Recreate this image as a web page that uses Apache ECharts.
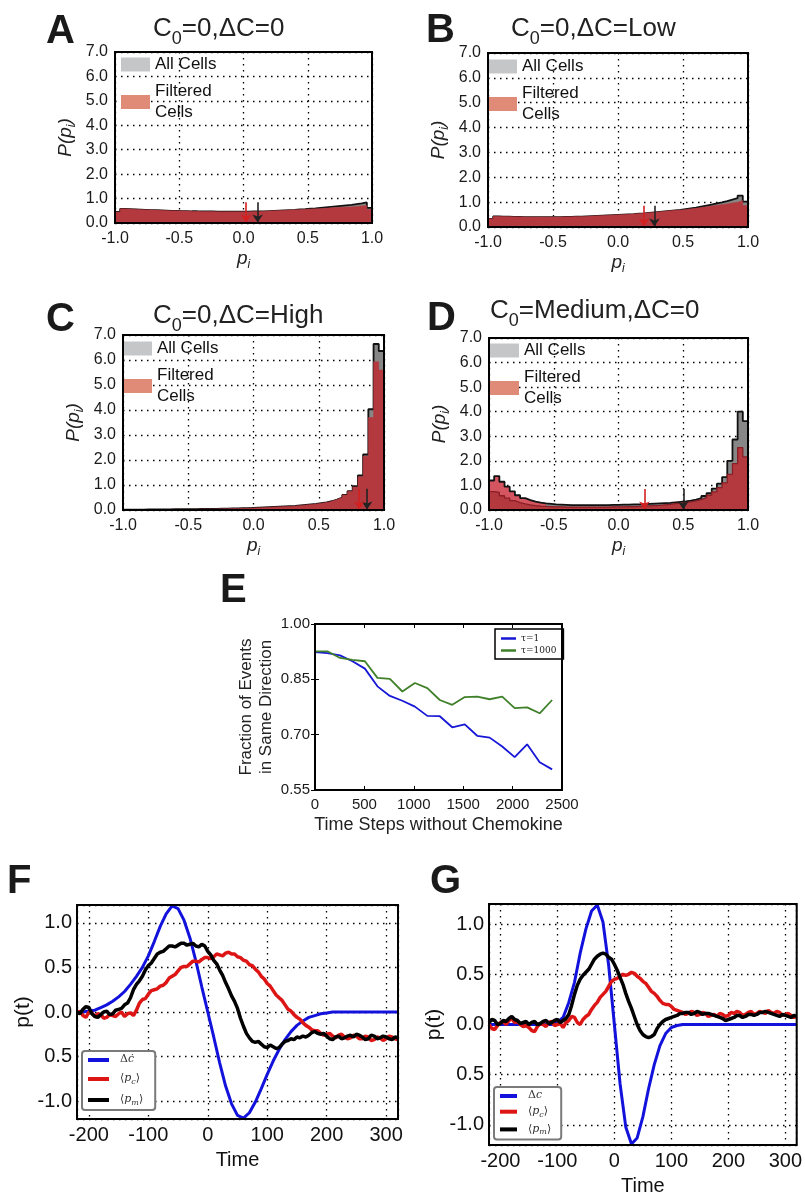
<!DOCTYPE html>
<html><head><meta charset="utf-8">
<script src="https://cdn.jsdelivr.net/npm/echarts@6/dist/echarts.min.js"></script>
<style>html,body{margin:0;padding:0;background:#fff}#c{width:805px;height:1203px}</style>
</head><body><div id="c"></div><script>
// ---------- DATA ----------
const histEdges = [-1.00,-0.96,-0.92,-0.88,-0.84,-0.80,-0.76,-0.72,-0.68,-0.64,-0.60,-0.56,-0.52,-0.48,-0.44,-0.40,-0.36,-0.32,-0.28,-0.24,-0.20,-0.16,-0.12,-0.08,-0.04,0.00,0.04,0.08,0.12,0.16,0.20,0.24,0.28,0.32,0.36,0.40,0.44,0.48,0.52,0.56,0.60,0.64,0.68,0.72,0.76,0.80,0.84,0.88,0.92,0.96,1.00];
const allA  = [0.45,0.58,0.57,0.56,0.55,0.54,0.53,0.53,0.52,0.51,0.50,0.50,0.49,0.49,0.48,0.48,0.47,0.47,0.47,0.46,0.46,0.46,0.46,0.46,0.46,0.46,0.47,0.47,0.48,0.49,0.50,0.51,0.52,0.53,0.54,0.56,0.57,0.59,0.60,0.62,0.64,0.66,0.68,0.70,0.72,0.74,0.77,0.80,0.84,0.62];
const filtA = [0.45,0.58,0.57,0.56,0.55,0.54,0.53,0.53,0.52,0.51,0.50,0.50,0.49,0.49,0.48,0.48,0.47,0.47,0.47,0.46,0.46,0.46,0.46,0.46,0.46,0.46,0.47,0.47,0.48,0.49,0.50,0.51,0.52,0.53,0.54,0.55,0.56,0.57,0.58,0.59,0.60,0.62,0.63,0.64,0.65,0.66,0.68,0.70,0.72,0.55];
const allB  = [0.33,0.43,0.42,0.42,0.41,0.41,0.40,0.40,0.40,0.40,0.40,0.40,0.40,0.40,0.41,0.41,0.42,0.42,0.43,0.44,0.45,0.46,0.47,0.48,0.49,0.50,0.51,0.52,0.54,0.55,0.57,0.59,0.61,0.63,0.65,0.67,0.69,0.72,0.75,0.78,0.82,0.86,0.90,0.95,0.99,1.04,1.10,1.16,1.26,1.02];
const filtB = [0.33,0.43,0.42,0.42,0.41,0.41,0.40,0.40,0.40,0.40,0.40,0.40,0.40,0.40,0.41,0.41,0.42,0.42,0.43,0.44,0.45,0.46,0.47,0.48,0.49,0.50,0.51,0.52,0.54,0.55,0.57,0.59,0.61,0.63,0.65,0.67,0.68,0.70,0.73,0.75,0.78,0.81,0.84,0.87,0.90,0.93,0.97,1.00,1.06,0.86];
const allC  = [0.01,0.01,0.01,0.01,0.02,0.02,0.02,0.02,0.02,0.03,0.03,0.03,0.03,0.03,0.04,0.04,0.04,0.04,0.05,0.05,0.06,0.06,0.07,0.07,0.08,0.09,0.10,0.11,0.12,0.13,0.14,0.15,0.16,0.18,0.20,0.22,0.24,0.27,0.30,0.35,0.42,0.50,0.60,0.75,0.95,1.38,2.22,4.03,6.64,6.36];
const filtC = [0.01,0.01,0.01,0.01,0.02,0.02,0.02,0.02,0.02,0.03,0.03,0.03,0.03,0.03,0.04,0.04,0.04,0.04,0.05,0.05,0.06,0.06,0.07,0.07,0.08,0.09,0.10,0.11,0.12,0.13,0.14,0.15,0.16,0.18,0.20,0.22,0.24,0.27,0.30,0.35,0.42,0.50,0.60,0.75,0.92,1.33,2.15,3.70,5.93,5.60];
const allD  = [1.20,1.38,1.15,0.95,0.76,0.60,0.48,0.40,0.34,0.30,0.27,0.25,0.23,0.22,0.21,0.20,0.20,0.20,0.20,0.20,0.20,0.20,0.20,0.21,0.21,0.22,0.22,0.23,0.23,0.24,0.25,0.26,0.27,0.28,0.29,0.31,0.33,0.35,0.38,0.42,0.48,0.57,0.69,0.87,1.07,1.34,2.00,2.87,4.00,3.62];
const filtD = [0.75,0.72,0.58,0.48,0.38,0.30,0.25,0.21,0.18,0.16,0.15,0.14,0.13,0.13,0.12,0.12,0.12,0.12,0.12,0.12,0.12,0.12,0.12,0.13,0.13,0.13,0.14,0.14,0.15,0.16,0.17,0.18,0.19,0.21,0.23,0.26,0.28,0.30,0.33,0.37,0.42,0.50,0.60,0.74,0.91,1.10,1.45,1.89,2.54,2.16];
const meanAll  = [0.11, 0.28, 0.87, 0.50];
const meanFilt = [0.02, 0.20, 0.81, 0.20];
const histTitles = [['0','=0,ΔC=0'],['0','=0,ΔC=Low'],['0','=0,ΔC=High'],['0','=Medium,ΔC=0']];
const panelLetters = ['A','B','C','D','E','F','G'];

const eSteps    = [0,126,253,379,505,632,758,884,1011,1137,1263,1389,1516,1642,1768,1895,2021,2147,2274,2400];
const eTau1     = [0.924,0.921,0.915,0.899,0.879,0.831,0.805,0.792,0.776,0.751,0.750,0.720,0.728,0.697,0.692,0.668,0.639,0.674,0.625,0.606];
const eTau1000  = [0.926,0.926,0.908,0.903,0.899,0.854,0.851,0.817,0.840,0.826,0.794,0.781,0.802,0.803,0.796,0.803,0.772,0.774,0.758,0.794];

// smooth stimulus curves (every 10 time units)
const tTime = [-220,-210,-200,-190,-180,-170,-160,-150,-140,-130,-120,-110,-100,-90,-80,-70,-60,-50,-40,-30,-20,-10,0,10,20,30,40,50,60,70,80,90,100,110,120,130,140,150,160,170,180,190,200,210,220,230,240,250,260,270,280,290,300,310,320];
const fBlue  = [0.00,0.00,0.01,0.02,0.05,0.08,0.12,0.17,0.23,0.31,0.40,0.50,0.63,0.79,0.96,1.10,1.19,1.16,1.03,0.83,0.57,0.28,0.00,-0.28,-0.57,-0.83,-1.03,-1.16,-1.19,-1.13,-1.01,-0.86,-0.70,-0.55,-0.42,-0.31,-0.22,-0.15,-0.10,-0.06,-0.04,-0.02,-0.01,0.00,0.00,0.00,0.00,0.00,0.00,0.00,0.00,0.00,0.00,0.00,0.00];
const gBlue  = [0.00,0.00,0.00,0.00,0.00,0.00,0.00,0.00,0.00,0.00,0.00,0.00,0.02,0.07,0.22,0.42,0.71,0.95,1.13,1.19,1.02,0.59,0.00,-0.59,-1.02,-1.19,-1.13,-0.92,-0.64,-0.40,-0.21,-0.09,-0.03,-0.01,0.00,0.00,0.00,0.00,0.00,0.00,0.00,0.00,0.00,0.00,0.00,0.00,0.00,0.00,0.00,0.00,0.00,0.00,0.00,0.00,0.00];
// noisy averages (every 5 time units)
const tFine = [-220,-215,-210,-205,-200,-195,-190,-185,-180,-175,-170,-165,-160,-155,-150,-145,-140,-135,-130,-125,-120,-115,-110,-105,-100,-95,-90,-85,-80,-75,-70,-65,-60,-55,-50,-45,-40,-35,-30,-25,-20,-15,-10,-5,0,5,10,15,20,25,30,35,40,45,50,55,60,65,70,75,80,85,90,95,100,105,110,115,120,125,130,135,140,145,150,155,160,165,170,175,180,185,190,195,200,205,210,215,220,225,230,235,240,245,250,255,260,265,270,275,280,285,290,295,300,305,310,315,320];
const fRed = [-0.02,0.01,-0.04,-0.06,0.00,-0.01,-0.05,-0.02,-0.03,-0.07,-0.06,-0.03,-0.04,-0.05,-0.02,0.00,-0.05,-0.02,-0.01,-0.04,0.02,0.10,0.14,0.15,0.20,0.24,0.25,0.26,0.29,0.30,0.33,0.38,0.40,0.42,0.46,0.50,0.51,0.51,0.54,0.57,0.57,0.56,0.59,0.61,0.61,0.60,0.62,0.65,0.64,0.63,0.66,0.67,0.65,0.65,0.62,0.61,0.58,0.57,0.53,0.52,0.48,0.45,0.40,0.37,0.32,0.29,0.24,0.19,0.16,0.13,0.08,0.03,0.01,-0.03,-0.06,-0.08,-0.12,-0.15,-0.17,-0.20,-0.21,-0.21,-0.24,-0.26,-0.25,-0.24,-0.27,-0.29,-0.26,-0.25,-0.28,-0.30,-0.29,-0.26,-0.27,-0.30,-0.30,-0.27,-0.28,-0.32,-0.31,-0.28,-0.29,-0.32,-0.30,-0.27,-0.28,-0.30,-0.31];
const fBlack = [0.00,-0.02,0.03,0.06,0.05,-0.02,-0.05,-0.06,-0.03,0.00,0.01,-0.03,-0.02,0.02,0.03,0.04,0.08,0.10,0.16,0.25,0.31,0.35,0.40,0.47,0.52,0.55,0.60,0.65,0.67,0.68,0.71,0.74,0.74,0.73,0.75,0.77,0.77,0.75,0.76,0.77,0.74,0.73,0.76,0.74,0.68,0.64,0.58,0.54,0.47,0.41,0.33,0.26,0.18,0.12,0.04,-0.07,-0.16,-0.24,-0.29,-0.33,-0.34,-0.33,-0.36,-0.39,-0.40,-0.37,-0.39,-0.41,-0.40,-0.36,-0.33,-0.32,-0.30,-0.31,-0.28,-0.29,-0.27,-0.28,-0.26,-0.23,-0.22,-0.24,-0.25,-0.24,-0.27,-0.30,-0.31,-0.28,-0.27,-0.30,-0.29,-0.27,-0.26,-0.28,-0.25,-0.26,-0.28,-0.31,-0.30,-0.26,-0.27,-0.30,-0.29,-0.27,-0.28,-0.30,-0.31,-0.28,-0.29];
const gRed = [0.00,-0.04,-0.05,-0.01,0.02,0.03,0.00,0.04,0.06,0.02,0.03,0.00,-0.02,-0.01,-0.03,-0.06,-0.07,-0.02,0.01,0.00,-0.02,0.02,0.03,-0.01,0.00,0.01,-0.03,0.02,0.04,0.08,0.07,0.02,0.00,0.05,0.08,0.10,0.15,0.19,0.22,0.27,0.30,0.33,0.38,0.43,0.45,0.46,0.48,0.50,0.49,0.50,0.52,0.51,0.48,0.46,0.43,0.41,0.37,0.33,0.31,0.28,0.24,0.21,0.20,0.20,0.18,0.15,0.14,0.13,0.12,0.10,0.11,0.13,0.12,0.09,0.10,0.12,0.11,0.08,0.09,0.10,0.08,0.11,0.10,0.08,0.09,0.12,0.11,0.13,0.12,0.09,0.10,0.12,0.13,0.10,0.11,0.13,0.12,0.11,0.14,0.12,0.11,0.13,0.12,0.09,0.10,0.11,0.09,0.07,0.08];
const gBlack = [0.02,0.05,0.04,0.00,0.01,0.04,0.03,0.06,0.08,0.05,0.04,0.01,0.02,0.03,0.00,0.02,0.03,0.00,0.01,0.03,0.04,0.01,0.02,0.04,0.05,0.02,0.04,0.06,0.10,0.19,0.30,0.39,0.45,0.49,0.52,0.55,0.60,0.65,0.68,0.70,0.71,0.70,0.67,0.65,0.60,0.54,0.47,0.40,0.31,0.23,0.16,0.08,0.00,-0.06,-0.10,-0.12,-0.13,-0.12,-0.10,-0.04,0.00,0.03,0.05,0.06,0.07,0.08,0.09,0.11,0.11,0.12,0.12,0.10,0.11,0.13,0.12,0.10,0.11,0.11,0.10,0.09,0.08,0.07,0.06,0.04,0.05,0.06,0.07,0.09,0.09,0.07,0.08,0.10,0.10,0.09,0.10,0.12,0.12,0.13,0.12,0.11,0.10,0.09,0.08,0.10,0.09,0.08,0.07,0.09,0.08];

// ---------- STYLE / LAYOUT ----------
const FONT = "'Liberation Sans', Arial, Helvetica, sans-serif";
const SERIF = "'DejaVu Serif', 'Liberation Serif', serif";
const GREY_FILL = '#878787', RED_FILL = '#b3393f', PINK_FILL = '#d45560';
const dotted = {color:'#000', width:1.3, type:[1.5,4.5]};
const grids = [
  {left:115, top:52, width:257, height:171},
  {left:488, top:53, width:260, height:174},
  {left:123, top:335, width:261, height:175},
  {left:489, top:338, width:259, height:172},
  {left:315, top:624, width:247, height:166},
  {left:77,  top:905, width:321, height:214},
  {left:489, top:904, width:309, height:241}
].map(g=>Object.assign(g,{show:true, z:10, backgroundColor:'transparent', borderColor:'#000', borderWidth:2}));

const histLegendPos = [[121,54],[488,56],[123,338],[490,340]];
const histTitlePos  = [[153,16],[511,16],[153,303],[490,298]];
const letterPos = [[46,12],[426,11],[46,300],[427,299],[220,571],[7,862],[430,862]];

const xAxes = [], yAxes = [], series = [], legends = [], titles = [];

const rSub = {
  i:{fontStyle:'italic', fontSize:19, lineHeight:19, verticalAlign:'top', fontFamily:FONT, color:'#222'},
  s:{fontStyle:'italic', fontSize:12, lineHeight:12, padding:[10,0,0,0], verticalAlign:'top', fontFamily:FONT, color:'#222'}
};

const histAll = [allA, allB, allC, allD], histFilt = [filtA, filtB, filtC, filtD];
for (let p = 0; p < 4; p++) {
  xAxes.push({gridIndex:p, type:'value', min:-1, max:1, interval:0.5,
    axisLine:{show:false}, axisTick:{show:false},
    axisLabel:{fontSize:16, color:'#1a1a1a', margin:8, fontFamily:FONT, formatter:v=>v.toFixed(1)},
    splitLine:{show:true, lineStyle:dotted},
    name:'{i|p}{s|i}', nameLocation:'middle', nameGap:26, nameTextStyle:{rich:rSub}});
  yAxes.push({gridIndex:p, type:'value', min:0, max:7, interval:1,
    axisLine:{show:false}, axisTick:{show:false},
    axisLabel:{fontSize:16, color:'#1a1a1a', margin:7, fontFamily:FONT, formatter:v=>v.toFixed(1)},
    splitLine:{show:true, lineStyle:dotted},
    name:'{i|P(p}{s|i}{i|)}', nameLocation:'middle', nameGap:40, nameRotate:90, nameTextStyle:{rich:rSub}});
  const allFill = p === 3 ? new echarts.graphic.LinearGradient(0,0,1,0,[
      {offset:0,color:PINK_FILL},{offset:0.22,color:PINK_FILL},{offset:0.22,color:GREY_FILL},{offset:1,color:GREY_FILL}]) : GREY_FILL;
  const allData = histEdges.map((x,i)=>[x, histAll[p][Math.min(i, histAll[p].length-1)]]);
  const filtData = histEdges.map((x,i)=>[x, histFilt[p][Math.min(i, histFilt[p].length-1)]]);
  series.push({name:'All Cells', type:'line', xAxisIndex:p, yAxisIndex:p, step:'end', data:allData,
    symbol:'none', z:2, itemStyle:{color:'#c5c6c8'},
    lineStyle:{color:'#111', width:1.8}, areaStyle:{color:allFill, opacity:1},
    markLine:{silent:true, symbol:['none','arrow'], symbolSize:8, label:{show:false},
      lineStyle:{color:'#222', width:1.6, type:'solid'},
      data:[[{coord:[meanAll[p],0.85]},{coord:[meanAll[p],0.02]}]]}});
  series.push({name:'Filtered Cells', type:'line', xAxisIndex:p, yAxisIndex:p, step:'end', data:filtData,
    symbol:'none', z:3, itemStyle:{color:'#e08a78'},
    lineStyle:{color: p===3 ? '#8a1e24' : RED_FILL, width: p===3 ? 1.3 : 0.5}, areaStyle:{color:RED_FILL, opacity:1},
    markLine:{silent:true, symbol:['none','arrow'], symbolSize:8, label:{show:false},
      lineStyle:{color:'#d42020', width:1.6, type:'solid'},
      data:[[{coord:[meanFilt[p],0.85]},{coord:[meanFilt[p],0.02]}]]}});
  legends.push({left:histLegendPos[p][0], top:histLegendPos[p][1], orient:'vertical', padding:0, itemGap:6,
    itemWidth:29, itemHeight:14, icon:'rect', selectedMode:false,
    data:[{name:'All Cells', itemStyle:{color:'#c5c6c8'}},{name:'Filtered Cells', itemStyle:{color:'#e08a78'}}],
    formatter:n=>n==='Filtered Cells' ? 'Filtered\nCells' : n,
    textStyle:{fontSize:17, lineHeight:21, color:'#111', fontFamily:FONT}});
  titles.push({left:histTitlePos[p][0], top:histTitlePos[p][1], padding:0,
    text:'{m|C}{s|' + histTitles[p][0] + '}{m|' + histTitles[p][1] + '}',
    textStyle:{fontWeight:'normal', rich:{
      m:{fontSize:26, lineHeight:26, fontWeight:'normal', verticalAlign:'top', fontFamily:FONT, color:'#222'},
      s:{fontSize:18, lineHeight:18, fontWeight:'normal', padding:[14,0,0,0], verticalAlign:'top', fontFamily:FONT, color:'#222'}}}});
}

// Panel E
xAxes.push({gridIndex:4, type:'value', min:0, max:2500, interval:500,
  axisLine:{show:false}, axisTick:{show:true, inside:true, length:4, lineStyle:{color:'#000'}},
  axisLabel:{fontSize:15, color:'#1a1a1a', margin:7, fontFamily:FONT, formatter:v=>String(v)}, splitLine:{show:false},
  name:'Time Steps without Chemokine', nameLocation:'middle', nameGap:26,
  nameTextStyle:{fontSize:18, color:'#222', fontFamily:FONT}});
yAxes.push({gridIndex:4, type:'value', min:0.55, max:1.0, interval:0.15,
  axisLine:{show:false}, axisTick:{show:true, inside:true, length:4, lineStyle:{color:'#000'}},
  axisLabel:{fontSize:15, color:'#1a1a1a', margin:5, fontFamily:FONT, formatter:v=>v.toFixed(2)}, splitLine:{show:false},
  name:'Fraction of Events\nin Same Direction', nameLocation:'middle', nameGap:39, nameRotate:90,
  nameTextStyle:{fontSize:17, lineHeight:20, color:'#222', fontFamily:FONT}});

// Panels F, G
const fgAxisX = gi => ({gridIndex:gi, type:'value', min:-220, max:320, minInterval:100, maxInterval:100,
  axisLine:{show:false}, axisTick:{show:false},
  axisLabel:{fontSize:20, color:'#111', margin:6, fontFamily:FONT, showMinLabel:false, showMaxLabel:false},
  splitLine:{show:true, lineStyle:dotted},
  name:'Time', nameLocation:'middle', nameGap:31, nameTextStyle:{fontSize:20, color:'#111', fontFamily:FONT}});
const fgAxisY = (gi, gap) => ({gridIndex:gi, type:'value', min:-1.2, max:1.2, minInterval:0.5, maxInterval:0.5,
  axisLine:{show:false}, axisTick:{show:false},
  axisLabel:{fontSize:20, color:'#111', margin:5, fontFamily:FONT, showMinLabel:false, showMaxLabel:false,
    formatter:v=>Math.abs(v+0.5)<1e-9 ? '0.5' : v.toFixed(1)},
  splitLine:{show:true, lineStyle:dotted},
  name:'p(t)', nameLocation:'middle', nameGap:gap, nameRotate:90, nameTextStyle:{fontSize:21, color:'#111', fontFamily:FONT}});
xAxes.push(fgAxisX(5)); yAxes.push(fgAxisY(5, 38));
xAxes.push(fgAxisX(6)); yAxes.push(fgAxisY(6, 44));

// E mirrored ticks on top/right
xAxes.push({gridIndex:4, type:'value', position:'top', min:0, max:2500, interval:500,
  axisLine:{show:false}, axisTick:{show:true, inside:true, length:4, lineStyle:{color:'#000'}},
  axisLabel:{show:false}, splitLine:{show:false}});
yAxes.push({gridIndex:4, type:'value', position:'right', min:0.55, max:1.0, interval:0.15,
  axisLine:{show:false}, axisTick:{show:true, inside:true, length:4, lineStyle:{color:'#000'}},
  axisLabel:{show:false}, splitLine:{show:false}});

const E_BLUE = '#1717d6', E_GREEN = '#40802a';
series.push({name:'τ=1', type:'line', xAxisIndex:4, yAxisIndex:4, symbol:'none',
  data:eSteps.map((x,i)=>[x,eTau1[i]]), itemStyle:{color:E_BLUE}, lineStyle:{color:E_BLUE, width:1.8}});
series.push({name:'τ=1000', type:'line', xAxisIndex:4, yAxisIndex:4, symbol:'none',
  data:eSteps.map((x,i)=>[x,eTau1000[i]]), itemStyle:{color:E_GREEN}, lineStyle:{color:E_GREEN, width:1.8}});
legends.push({left:495, top:629, orient:'vertical', borderColor:'#000', borderWidth:1.5, padding:[5,7,4,6],
  itemGap:3, itemWidth:15, itemHeight:2.5, icon:'rect', selectedMode:false, data:['τ=1','τ=1000'],
  textStyle:{fontFamily:SERIF, fontSize:9, color:'#222'}});

const B = '#1212dc', R = '#dd1515', K = '#000000';
function fg(gi, blueName, blue, red, black) {
  series.push({name:blueName, type:'line', xAxisIndex:gi, yAxisIndex:gi, symbol:'none',
    data:tTime.map((t,i)=>[t,blue[i]]), itemStyle:{color:B}, lineStyle:{color:B, width:3}});
  series.push({name:'⟨pc⟩', type:'line', xAxisIndex:gi, yAxisIndex:gi, symbol:'none',
    data:tFine.map((t,i)=>[t,red[i]]), itemStyle:{color:R}, lineStyle:{color:R, width:3.5}});
  series.push({name:'⟨pm⟩', type:'line', xAxisIndex:gi, yAxisIndex:gi, symbol:'none',
    data:tFine.map((t,i)=>[t,black[i]]), itemStyle:{color:K}, lineStyle:{color:K, width:3.5}});
}
fg(5, 'Δċ', fBlue, fRed, fBlack);
fg(6, 'Δc', gBlue, gRed, gBlack);
const legRich = {
  n:{fontFamily:SERIF, fontSize:11, lineHeight:12, verticalAlign:'top', color:'#333'},
  i:{fontFamily:SERIF, fontStyle:'italic', fontSize:11, lineHeight:12, verticalAlign:'top', color:'#333'},
  s:{fontFamily:SERIF, fontStyle:'italic', fontSize:8, lineHeight:8, padding:[5,0,0,0], verticalAlign:'top', color:'#333'}
};
const legFmt = n => ({'⟨pc⟩':'{n|⟨}{i|p}{s|c}{n|⟩}', '⟨pm⟩':'{n|⟨}{i|p}{s|m}{n|⟩}', 'Δċ':'{n|Δ}{i|ċ}', 'Δc':'{n|Δ}{i|c}'})[n];
legends.push({left:82, top:1051, orient:'vertical', borderColor:'#7a7a7a', borderWidth:2, borderRadius:3,
  backgroundColor:'#fff', padding:[3,12,3,6], itemGap:8, itemWidth:21, itemHeight:4, icon:'rect', selectedMode:false,
  data:['Δċ','⟨pc⟩','⟨pm⟩'], formatter:legFmt, textStyle:{rich:legRich, padding:[0,0,0,6]}});
legends.push({left:494, top:1087, orient:'vertical', borderColor:'#7a7a7a', borderWidth:2, borderRadius:3,
  backgroundColor:'#fff', padding:[3,10,3,6], itemGap:4.7, itemWidth:17, itemHeight:4, icon:'rect', selectedMode:false,
  data:['Δc','⟨pc⟩','⟨pm⟩'], formatter:legFmt, textStyle:{rich:legRich, padding:[0,0,0,6]}});

panelLetters.forEach((L,i)=>titles.push({text:L, left:letterPos[i][0], top:letterPos[i][1], padding:0,
  textStyle:{fontSize:40, fontWeight:'bold', fontFamily:FONT, color:'#1a1a1a'}}));

const chart = echarts.init(document.getElementById('c'), null, {renderer:'canvas'});
chart.setOption({
  backgroundColor:'#fff', animation:false,
  title:titles, legend:legends, grid:grids, xAxis:xAxes, yAxis:yAxes, series:series
});
</script></body></html>
